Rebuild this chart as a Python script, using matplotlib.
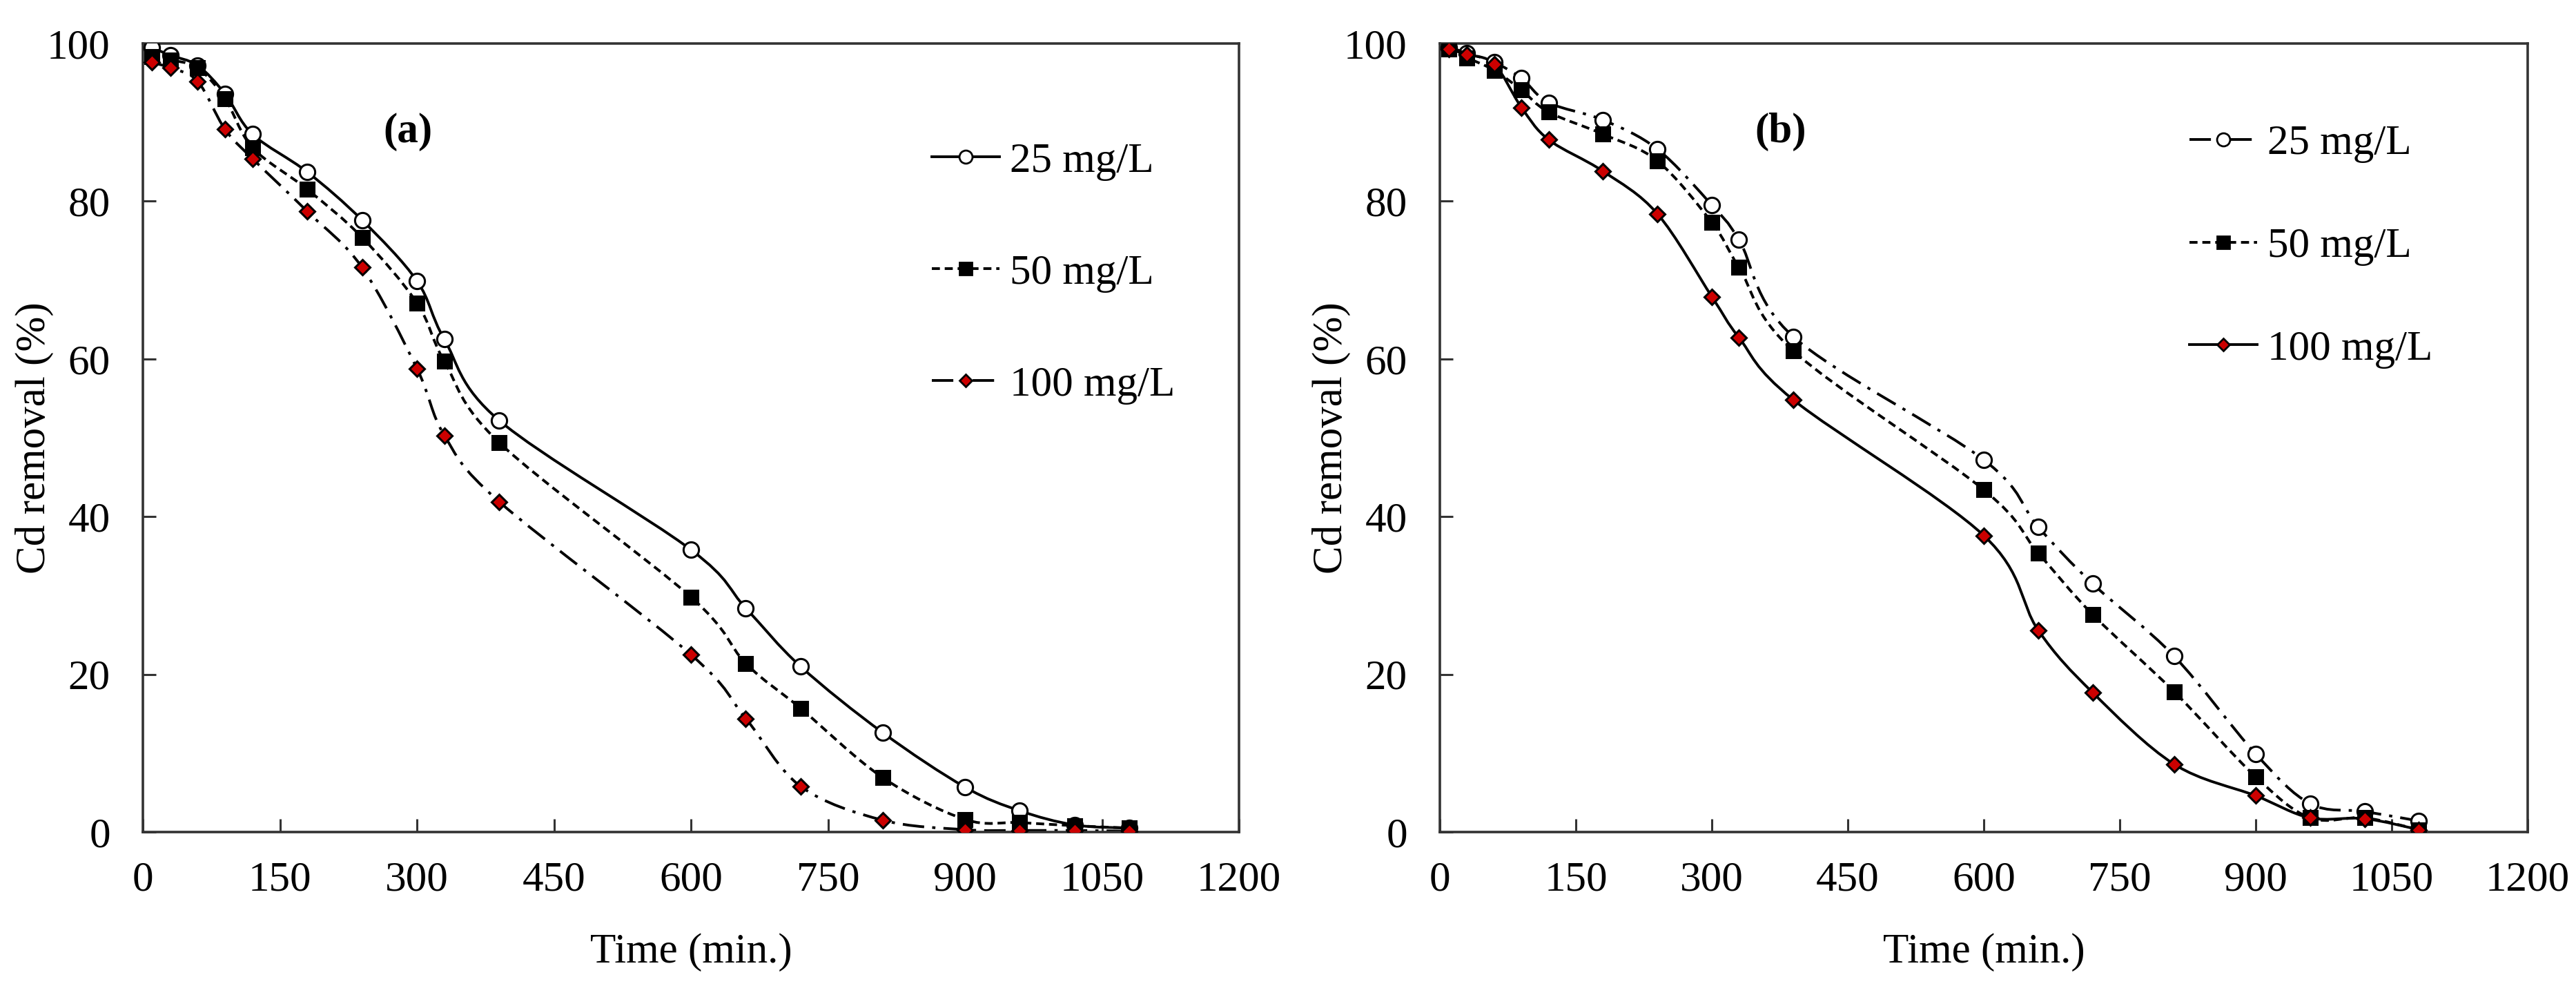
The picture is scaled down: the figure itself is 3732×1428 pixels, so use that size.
import numpy as np
import matplotlib
matplotlib.use('Agg')
import matplotlib.pyplot as plt
from matplotlib.path import Path
from matplotlib.patches import PathPatch
from matplotlib.lines import Line2D

# ---------------- data ----------------
time_min = [10, 30, 60, 90, 120, 180, 240, 300, 330, 390, 600, 660, 720, 810, 900, 960, 1020, 1080]
series_labels = ['25 mg/L', '50 mg/L', '100 mg/L']

a_25 = [99.5, 98.5, 97.2, 93.6, 88.5, 83.7, 77.6, 69.9, 62.5, 52.2, 35.8, 28.4, 21.0, 12.6, 5.7, 2.7, 0.9, 0.5]
a_50 = [98.3, 97.9, 96.9, 93.0, 86.8, 81.5, 75.4, 67.1, 59.7, 49.4, 29.8, 21.4, 15.7, 6.9, 1.6, 1.2, 0.8, 0.5]
a_100 = [97.6, 96.9, 95.2, 89.1, 85.4, 78.7, 71.6, 58.8, 50.3, 41.9, 22.5, 14.4, 5.8, 1.5, 0.3, 0.2, 0.2, 0.1]

b_25 = [99.5, 98.8, 97.6, 95.6, 92.5, 90.3, 86.6, 79.5, 75.1, 62.8, 47.2, 38.7, 31.5, 22.3, 9.9, 3.6, 2.6, 1.4]
b_50 = [99.3, 98.2, 96.6, 94.1, 91.3, 88.5, 85.1, 77.3, 71.6, 61.0, 43.4, 35.4, 27.6, 17.8, 7.0, 1.8, 1.8, 0.3]
b_100 = [99.3, 98.6, 97.4, 91.9, 87.8, 83.8, 78.4, 67.9, 62.7, 54.8, 37.6, 25.6, 17.7, 8.6, 4.6, 1.8, 1.7, 0.3]

panel_tags = ['(a)', '(b)']
x_ticks = [0, 150, 300, 450, 600, 750, 900, 1050, 1200]
y_ticks = [0, 20, 40, 60, 80, 100]

# ---------------- style ----------------
FONT = 'Liberation Serif'
FS = 44
RED = '#CC0000'
LW = 2.8

plt.rcParams['font.family'] = [FONT, 'DejaVu Serif']

DASHED = (0, (3.0, 1.8))
DASHDOT = (0, (8, 3, 1.2, 3))

styles_a = [
    dict(ls='solid', marker='o', mfc='white', ms=16),
    dict(ls=DASHED, marker='s', mfc='black', ms=15),
    dict(ls=DASHDOT, marker='D', mfc=RED, ms=11),
]
styles_b = [
    dict(ls=DASHDOT, marker='o', mfc='white', ms=16),
    dict(ls=DASHED, marker='s', mfc='black', ms=15),
    dict(ls='solid', marker='D', mfc=RED, ms=11),
]


def smooth_path(x, y):
    pts = np.column_stack([x, y]).astype(float)
    n = len(pts)
    verts = [pts[0]]
    codes = [Path.MOVETO]
    for i in range(n - 1):
        p0 = pts[i - 1] if i > 0 else pts[i]
        p1 = pts[i]
        p2 = pts[i + 1]
        p3 = pts[i + 2] if i + 2 < n else pts[i + 1]
        c1 = p1 + (p2 - p0) / 6.0
        c2 = p2 - (p3 - p1) / 6.0
        verts += [c1, c2, p2]
        codes += [Path.CURVE4] * 3
    return Path(verts, codes)


fig = plt.figure(figsize=(37.32, 14.28), dpi=100)
ax_a = fig.add_axes([207 / 3732, 1 - 1205 / 1428, 1588 / 3732, 1142 / 1428])
ax_b = fig.add_axes([2086 / 3732, 1 - 1205 / 1428, 1576 / 3732, 1142 / 1428])

panels = [
    (ax_a, [a_25, a_50, a_100], styles_a, (290, 88.8), (0.72, 0.875), 1.74, -0.081),
    (ax_b, [b_25, b_50, b_100], styles_b, (376, 88.8), (0.689, 0.897), 1.52, -0.082),
]

for idx, (ax, series, styles, tagpos, legpos, lspace, ylx) in enumerate(panels):
    handles = []
    for vals, st, lab in zip(series, styles, series_labels):
        patch = PathPatch(smooth_path(time_min, vals), fill=False, edgecolor='black',
                          lw=LW, linestyle=st['ls'], zorder=2, capstyle='butt')
        ax.add_patch(patch)
        ax.plot(time_min, vals, linestyle='none', marker=st['marker'], mfc=st['mfc'],
                mec='black', mew=2.2, ms=st['ms'], zorder=3)
        handles.append(Line2D([], [], color='black', lw=LW, linestyle=st['ls'],
                              marker=st['marker'], mfc=st['mfc'], mec='black',
                              mew=2.0, ms=st['ms'] * 0.85, label=lab))
    ax.set_xlim(0, 1200)
    ax.set_ylim(0, 100)
    ax.set_xticks(x_ticks)
    ax.set_yticks(y_ticks)
    ax.tick_params(direction='in', length=14, width=2.2, labelsize=FS,
                   top=False, right=False, color='#333333')
    ax.tick_params(axis='x', pad=30)
    ax.tick_params(axis='y', pad=34)
    for sp in ax.spines.values():
        sp.set_color('#333333')
        sp.set_linewidth(2.6)
    ax.set_xlabel('Time (min.)', fontsize=FS)
    ax.set_ylabel('Cd removal (%)', fontsize=FS)
    ax.xaxis.set_label_coords(0.5, -0.128)
    ax.yaxis.set_label_coords(ylx, 0.5)
    ax.text(tagpos[0], tagpos[1], panel_tags[idx], fontsize=FS, fontweight='bold',
            ha='center', va='center')
    ax.legend(handles=handles, loc='upper left', bbox_to_anchor=legpos,
              bbox_transform=ax.transAxes, frameon=False, fontsize=FS,
              borderaxespad=0, borderpad=0, handlelength=1.6, handletextpad=0.25,
              labelspacing=lspace, numpoints=1)

fig.savefig('out.png', dpi=100, facecolor='white')
